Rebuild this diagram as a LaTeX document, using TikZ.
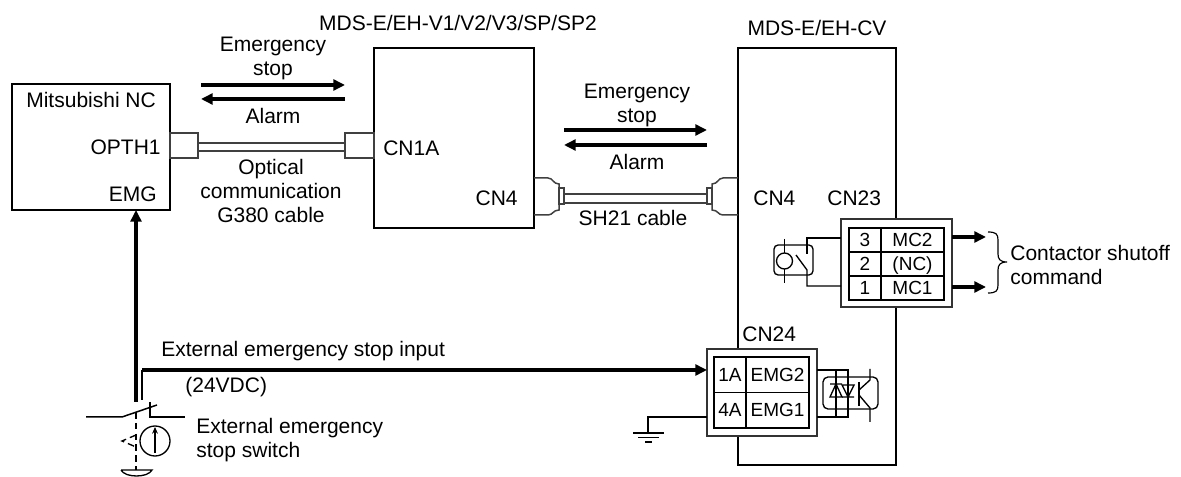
\documentclass[tikz,border=0pt]{standalone}
\usepackage{fontspec}
\setmainfont{Liberation Sans}
\usetikzlibrary{positioning,arrows.meta}
\def\px{0.6pt}
\begin{document}
\begin{tikzpicture}[x=0.6pt, y=-0.6pt, >={Triangle[length=7pt,width=6.5pt]},
    txt/.style={font=\fontsize{12.6}{14.4}\selectfont, align=center, inner sep=0pt},
    unit/.style={draw=black, line width=1.5pt, inner sep=0pt, outer sep=0pt, anchor=north west},
    wire/.style={draw=black, line width=0.8pt},
    sig/.style={draw=black, line width=2pt, ->},
    conn/.style={draw=black!75, line width=1pt, fill=white, inner sep=0pt, outer sep=0pt},
    block/.style={draw=black!80, line width=1pt, fill=white, inner sep=0pt, outer sep=0pt, anchor=north west},
    cell/.style={draw=black, line width=0.9pt, fill=white, inner sep=0pt, outer sep=0pt, text height=8pt, text depth=0pt, font=\fontsize{11.4}{13}\selectfont}]
  \useasboundingbox (0,0) rectangle (1181,477);

  % main units
  \node[unit, minimum width=\px*158, minimum height=\px*126] (nc) at (12,84) {};
  \node[unit, minimum width=\px*160, minimum height=\px*180] (drv) at (374,48) {};
  \node[unit, minimum width=\px*158, minimum height=\px*417] (cv) at (738,48) {};

  % titles
  \node[txt] (tdrv) at (458,23) {MDS-E/EH-V1/V2/V3/SP/SP2};
  \node[txt] (tcv) at (817,28) {MDS-E/EH-CV};

  % labels in the units
  \node[txt, anchor=west] (lnc) at (26,100) {Mitsubishi NC};
  \node[txt, anchor=east] (lopt) at (161,147) {OPTH1};
  \node[txt, anchor=east] (lemg) at (157,194) {EMG};
  \node[txt, anchor=west] (lcn1a) at (383,148) {CN1A};
  \node[txt, anchor=east] (lcn4a) at (518,198) {CN4};
  \node[txt, anchor=west] (lcn4b) at (753,198) {CN4};
  \node[txt, anchor=west] (lcn23) at (827,198) {CN23};

  % optical cable
  \node[conn, minimum width=\px*28, minimum height=\px*25, anchor=north west] (opta) at (170,133) {};
  \node[conn, minimum width=\px*29, minimum height=\px*25, anchor=north west] (optb) at (345,133) {};
  \draw[black!75, line width=1pt] ([yshift=\px*2.5]opta.east) -- ([yshift=\px*2.5]optb.west);
  \draw[black!75, line width=1pt] ([yshift=-\px*5.5]opta.east) -- ([yshift=-\px*5.5]optb.west);
  \node[txt] (lopth) at (271,191) {Optical\\communication\\G380 cable};

  % signals top left
  \node[txt] (les1) at (273,58) {Emergency\\stop};
  \coordinate (s1a) at (201,85);
  \coordinate (s1b) at (345,85);
  \coordinate (s2a) at (345,99);
  \coordinate (s2b) at (201,99);
  \draw[sig] (s1a) -- (s1b);
  \draw[sig] (s2a) -- (s2b);
  \node[txt] (lal1) at (273,116) {Alarm};

  % signals middle
  \node[txt] (les2) at (637,105) {Emergency\\stop};
  \coordinate (s3a) at (564,130);
  \coordinate (s3b) at (707,130);
  \coordinate (s4a) at (707,145);
  \coordinate (s4b) at (564,145);
  \draw[sig] (s3a) -- (s3b);
  \draw[sig] (s4a) -- (s4b);
  \node[txt] (lal2) at (637,162) {Alarm};

  % SH21 cable
  \draw[black!75, line width=0.9pt] (534,178) -- (548,178) .. controls (553,178) and (553,184) .. (559,184) -- (559,210) .. controls (553,210) and (553,215) .. (548,215) -- (534,215);
  \draw[black!75, line width=0.9pt] (738,178) -- (723,178) .. controls (718,178) and (718,184) .. (712,184) -- (712,210) .. controls (718,210) and (718,215) .. (723,215) -- (738,215);
  \node[conn, minimum width=\px*5, minimum height=\px*16] (shl) at (561.5,196) {};
  \node[conn, minimum width=\px*5, minimum height=\px*16] (shr) at (709.5,196) {};
  \draw[black!75, line width=1pt] ([yshift=\px*2]shl.east) -- ([yshift=\px*2]shr.west);
  \draw[black!75, line width=1pt] ([yshift=-\px*7]shl.east) -- ([yshift=-\px*7]shr.west);
  \node[txt] (lsh) at (633,218) {SH21 cable};

  % CN23
  \node[block, minimum width=\px*111, minimum height=\px*88] (cn23) at (841,219) {};
  \foreach \y/\a/\b in {240/3/MC2, 264/2/(NC), 288/1/MC1} {
    \node[cell, minimum width=\px*32, minimum height=\px*24] (a\a) at (865,\y) {\a};
    \node[cell, minimum width=\px*63, minimum height=\px*24, right=0pt of a\a] (b\a) {\b};
  }
  \draw[sig] (cn23.east |- 0,237) -- (986,237);
  \draw[sig] (cn23.east |- 0,287) -- (986,287);
  \draw[line width=0.7pt] (988,232) .. controls (996,232) and (998,234) .. (998,240) -- (998,254) .. controls (998,259) and (1000,262) .. (1007,262) .. controls (1000,262) and (998,265) .. (998,270) -- (998,285) .. controls (998,291) and (996,293) .. (988,293);
  \node[txt, align=left, anchor=west] (lcontact) at (1010,265) {Contactor shutoff\\command};

  % relay
  \node[wire, draw, rounded corners=2.5pt, minimum width=\px*39, minimum height=\px*30, inner sep=0pt, outer sep=0pt] (rly) at (793.5,260) {};
  \draw[wire] (cn23.west |- 0,238) -- (807,238) -- (807,254);
  \draw[wire] (796,255) -- (807,270) -- (807,286) -- (cn23.west |- 0,286);
  \draw[wire] (784.5,239) -- (784.5,283);
  \node[wire, draw, fill=white, circle, minimum size=\px*16, inner sep=0pt] (coil) at (784.5,261) {};

  % CN24
  \node[txt, anchor=west] (lcn24) at (742,334) {CN24};
  \node[block, minimum width=\px*110, minimum height=\px*87] (cn24) at (707,349) {};
  \node[cell, minimum width=\px*32, minimum height=\px*35.5] (c1) at (730,374.75) {1A};
  \node[cell, minimum width=\px*63, minimum height=\px*35.5, right=0pt of c1] (d1) {EMG2};
  \node[cell, minimum width=\px*32, minimum height=\px*35.5, below=0pt of c1] (c4) {4A};
  \node[cell, minimum width=\px*63, minimum height=\px*35.5, right=0pt of c4] (d4) {EMG1};

  % photocoupler
  \node[wire, draw, rounded corners=3pt, minimum width=\px*55, minimum height=\px*32, inner sep=0pt, outer sep=0pt] (opto) at (850.5,393) {};
  \draw[wire] (cn24.east |- 0,370) -- (848,370) -- (848,417) -- (cn24.east |- 0,417);
  \draw[wire] (836,370) -- (836,417);
  \draw[wire] (830,384) -- (842,384) (836,384) -- (830,397) -- (842,397) -- cycle;
  \draw[wire] (842,385) -- (854,385) -- (848,397) -- cycle (842,397) -- (854,397);
  \draw[wire] (859,382) -- (859,406);
  \draw[wire] (870,369) -- (870,380) -- (859,390);
  \draw[wire] (859,395) -- (870,408) -- (870,422);

  % ground
  \coordinate (gnd) at (648,433);
  \draw[wire] (cn24.west |- 0,417) -- (648,417) -- (gnd);
  \draw[wire] (633,433) -- (664,433);
  \draw[wire] (638,437.5) -- (659,437.5);
  \draw[wire] (645,442) -- (652,442);

  % external stop line
  \coordinate (ext) at (142,370);
  \draw[line width=1pt] (ext) -- (142,400);
  \draw[sig] (ext) -- (cn24.west |- ext);
  \draw[sig] (136,402) -- (nc.south -| 136,0);
  \node[txt, anchor=west] (lext) at (161,351) {External emergency stop input};
  \node[txt, anchor=west] (l24) at (185,387) {(24VDC)};

  % switch
  \draw[wire, line width=0.9pt] (86,417) -- (122,417) -- (157,405);
  \draw[wire, line width=0.9pt] (150,402) -- (150,417) -- (185,417);
  \draw[wire, dashed, dash pattern=on 4pt off 2.5pt] (136,412) -- (136,470);
  \draw[wire, dashed, dash pattern=on 4pt off 2.5pt] (136,435) -- (122,441) -- (136,447);
  \node[wire, draw, circle, minimum size=\px*30, inner sep=0pt] (sw) at (155,441) {};
  \draw[wire, ->, >={Stealth[length=4pt,width=3.5pt]}] (155,453) -- (155,427);
  \draw[wire] (121,470) -- (152,470) .. controls (148,478) and (125,478) .. (121,470);
  \node[txt, align=left, anchor=west] (lsw) at (196,440) {External emergency\\stop switch};
\end{tikzpicture}
\end{document}
